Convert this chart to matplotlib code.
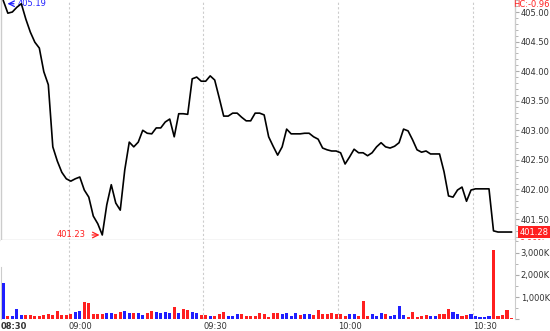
import numpy as np
import matplotlib
matplotlib.use('Agg')
import matplotlib.pyplot as plt
from matplotlib.ticker import MultipleLocator, FuncFormatter
from matplotlib.patches import Rectangle
import matplotlib.transforms as mtrans

# one point / one bar per minute, first bar = 08:45
price = [405.19, 404.98, 405.00, 405.08, 405.14, 404.88, 404.66, 404.49, 404.39, 403.99,
         403.77, 402.72, 402.48, 402.29, 402.18, 402.14, 402.18, 402.21, 401.99, 401.87,
         401.55, 401.42, 401.23, 401.74, 402.08, 401.77, 401.65, 402.33, 402.80, 402.72,
         402.80, 403.00, 402.95, 402.94, 403.04, 403.04, 403.14, 403.19, 402.89, 403.28,
         403.28, 403.27, 403.87, 403.90, 403.83, 403.83, 403.92, 403.85, 403.55, 403.24,
         403.24, 403.29, 403.29, 403.22, 403.16, 403.16, 403.29, 403.29, 403.26, 402.89,
         402.73, 402.58, 402.72, 403.02, 402.94, 402.94, 402.94, 402.95, 402.95, 402.89,
         402.85, 402.70, 402.67, 402.65, 402.65, 402.62, 402.43, 402.55, 402.68, 402.62,
         402.62, 402.57, 402.62, 402.72, 402.79, 402.72, 402.70, 402.73, 402.79, 403.02,
         402.99, 402.84, 402.67, 402.63, 402.65, 402.60, 402.60, 402.60, 402.30, 401.89,
         401.87, 401.99, 402.04, 401.80, 401.99, 402.01, 402.01, 402.01, 402.01, 401.30,
         401.28, 401.28, 401.28, 401.28]

# volume in thousands
volume = [1620, 130, 160, 460, 190, 210, 210, 130, 160, 210,
          240, 210, 390, 210, 210, 240, 330, 390, 780, 740,
          240, 240, 240, 290, 290, 240, 330, 380, 300, 300,
          270, 190, 300, 380, 330, 270, 330, 270, 560, 300,
          480, 410, 330, 300,
          200, 200, 170, 160, 250, 330,
          160, 160, 220, 220, 130, 160, 160, 280, 220, 100,
          280, 300, 220, 280, 160, 280, 190, 250, 220, 190,
          400, 220, 220, 300, 220, 220, 130, 220, 250, 130,
          810, 130, 220, 160, 280, 220, 160, 190, 600,
          190, 100, 320, 100, 160, 190, 160, 160, 220, 250, 460,
          330, 250, 160, 190, 220, 130, 100, 100, 160, 3120, 130, 190, 400, 70]

# r = up (red), b = down (blue)
vol_dir = list("brbbbrrrrr" "rrrrrrbbrr" "rrrbbrrbbr" "bbrrbbbbrb" "rrbb"
               "rrbrrr" "bbbrrrrrrr" "rrbbbbrbbr" "rrrrrrrbbr" "rrbbbrbbb"
               "brrrrrbbrrr" "bbrrbbbbbrrrrr")

tick_pos = [0, 15, 45, 75, 105]
tick_labels = ['08:30', '09:00', '09:30', '10:00', '10:30']

high_val, low_val, last_val = 405.19, 401.23, 401.28
hc_text = 'HC:-0.96'
chg_text = '0.00%'

RED = '#ff1f1f'
BLUE = '#1f1fff'
GRID = '#cccccc'
TXT = '#333333'
FS = 6

fig = plt.figure(figsize=(5.5, 3.31), dpi=100)
ax = fig.add_axes([0.002, 0.2749, 0.9345, 0.7251])
axv = fig.add_axes([0.002, 0.0353, 0.9345, 0.2396])

x = np.arange(len(price)) + 0.5

# price panel
ax.plot(x, price, color='black', lw=1.2, zorder=3)
ax.set_xlim(0, 114.3)
ax.set_ylim(401.145, 405.203)
for t in tick_pos[1:]:
    ax.axvline(t, color=GRID, lw=0.8, ls=(0, (2, 2)), zorder=1)
    axv.axvline(t, color=GRID, lw=0.8, ls=(0, (2, 2)), zorder=1)

ax.yaxis.tick_right()
ax.yaxis.set_major_locator(MultipleLocator(0.5))
ax.yaxis.set_minor_locator(MultipleLocator(0.1))
ax.yaxis.set_major_formatter(FuncFormatter(lambda v, p: '%.2f' % v if v < 405.1 else ''))
ax.tick_params(axis='y', which='major', length=3, color='#aaaaaa', labelcolor=TXT,
               labelsize=FS, pad=1, direction='out')
ax.tick_params(axis='y', which='minor', length=2, color='#aaaaaa', direction='out')
ax.set_xticks([])
ax.spines['top'].set_visible(False)
for s in ['left', 'right', 'bottom']:
    ax.spines[s].set_color(GRID)
    ax.spines[s].set_linewidth(1)

# high / low markers
i_hi = int(np.argmax(price))
i_lo = int(np.argmin(price))
ax.annotate('', xy=(x[i_hi] + 0.3, high_val - 0.05), xytext=(12, 0), textcoords='offset pixels',
            arrowprops=dict(arrowstyle='->', color=BLUE, lw=0.9), annotation_clip=False)
ax.annotate('%.2f' % high_val, xy=(x[i_hi] + 0.3, high_val - 0.05), xytext=(13, 0),
            textcoords='offset pixels', color=BLUE, fontsize=FS, va='center', ha='left',
            annotation_clip=False, zorder=2)
ax.annotate('', xy=(x[i_lo], low_val), xytext=(-13, 0), textcoords='offset pixels',
            arrowprops=dict(arrowstyle='->', color=RED, lw=0.9))
ax.annotate('%.2f' % low_val, xy=(x[i_lo], low_val), xytext=(-17, 0),
            textcoords='offset pixels', color=RED, fontsize=FS, va='center', ha='right')

# right side labels
blend = mtrans.blended_transform_factory(ax.transAxes, ax.transData)
fig.text(0.999, 0.999, hc_text, color=RED, fontsize=FS, ha='right', va='top')
ax.text(1.009, last_val, '%.2f' % last_val, transform=blend, color='white', fontsize=FS,
        ha='left', va='center', clip_on=False,
        bbox=dict(facecolor='#ff2020', edgecolor='none', pad=1.2))
t = ax.text(1.009, 401.085, chg_text, transform=blend, color=RED, fontsize=FS,
            ha='left', va='center')
t.set_clip_path(Rectangle((0, 0.2745), 1, 1, transform=fig.transFigure))
t.set_clip_on(True)

# volume panel
colors = [RED if d == 'r' else BLUE for d in vol_dir]
axv.bar(x, volume, width=0.68, color=colors, zorder=3)
axv.set_xlim(0, 114.3)
axv.set_ylim(0, 3565)
axv.yaxis.tick_right()
axv.yaxis.set_major_locator(MultipleLocator(1000))
axv.yaxis.set_minor_locator(MultipleLocator(500))
axv.yaxis.set_major_formatter(FuncFormatter(lambda v, p: '{:,.0f}K'.format(v) if v > 0 else ''))
axv.tick_params(axis='y', which='major', length=3, color='#aaaaaa', labelcolor=TXT,
                labelsize=FS, pad=1, direction='out')
axv.tick_params(axis='y', which='minor', length=2, color='#aaaaaa', direction='out')
axv.set_xticks(tick_pos)
axv.set_xticklabels(tick_labels)
axv.tick_params(axis='x', length=0, labelsize=FS, labelcolor=TXT, pad=2)
for lbl in axv.get_xticklabels():
    lbl.set_ha('left')
axv.get_xticklabels()[0].set_fontweight('bold')
for s in ['top', 'bottom']:
    axv.spines[s].set_visible(False)
axv.spines['left'].set_color(GRID)
axv.spines['left'].set_bounds(0, 2350)
axv.spines['right'].set_color(GRID)

fig.savefig('out.png', dpi=100)
